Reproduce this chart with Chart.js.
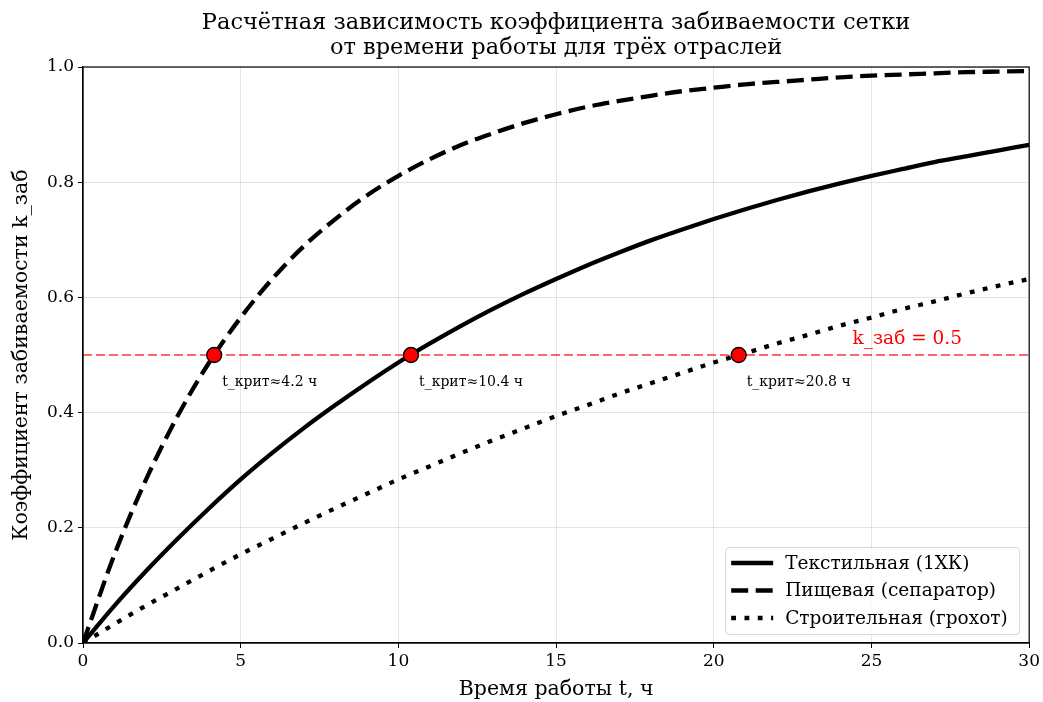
<!DOCTYPE html>
<html>
<head>
<meta charset="utf-8">
<script src="https://cdn.jsdelivr.net/npm/chart.js@4/dist/chart.umd.min.js"></script>
<style>
  html, body { margin: 0; padding: 0; background: #fff; }
  #wrap { width: 1043px; height: 702px; }
</style>
</head>
<body>
<div id="wrap"><canvas id="chart" width="1043" height="702"></canvas></div>
<script>
// время работы, ч
const tValues = [0, 1, 2, 3, 4, 5, 6, 7, 8, 9, 10, 11, 12, 13, 14, 15, 16, 17, 18, 19, 20, 21, 22, 23, 24, 25, 26, 27, 28, 29, 30];
// коэффициент забиваемости по отраслям
const textile = [0, 0.065, 0.125, 0.181, 0.234, 0.284, 0.330, 0.373, 0.413, 0.451, 0.487, 0.520, 0.551, 0.580, 0.607, 0.632, 0.656, 0.678, 0.699, 0.718, 0.736, 0.753, 0.769, 0.784, 0.798, 0.811, 0.823, 0.835, 0.845, 0.855, 0.865];
const food = [0, 0.154, 0.284, 0.394, 0.487, 0.565, 0.632, 0.689, 0.736, 0.777, 0.811, 0.840, 0.865, 0.885, 0.903, 0.918, 0.931, 0.941, 0.950, 0.958, 0.964, 0.970, 0.974, 0.978, 0.982, 0.985, 0.987, 0.989, 0.991, 0.992, 0.993];
const construction = [0, 0.033, 0.065, 0.095, 0.125, 0.154, 0.181, 0.208, 0.234, 0.259, 0.284, 0.307, 0.330, 0.352, 0.373, 0.394, 0.413, 0.433, 0.451, 0.469, 0.487, 0.503, 0.520, 0.535, 0.551, 0.565, 0.580, 0.593, 0.607, 0.620, 0.632];
const seriesNames = ['Текстильная (1ХК)', 'Пищевая (сепаратор)', 'Строительная (грохот)'];
// критический порог и время его достижения
const threshold = 0.5;
const critTimes = [4.16, 10.40, 20.79];
const critLabels = ['t_крит≈4.2 ч', 't_крит≈10.4 ч', 't_крит≈20.8 ч'];
const xTicks = [0, 5, 10, 15, 20, 25, 30];
const titleLines = ['Расчётная зависимость коэффициента забиваемости сетки', 'от времени работы для трёх отраслей'];

const FONT = "'DejaVu Serif', serif";

function toPoints(ys) {
    return tValues.map((t, i) => ({ x: t, y: ys[i] }));
}

const dashes = [[], [17, 7.5], [4.8, 8.5]];
const curves = [textile, food, construction].map((ys, i) => ({
    label: seriesNames[i],
    data: toPoints(ys),
    borderColor: '#000',
    borderWidth: 4.3,
    borderDash: dashes[i],
    borderCapStyle: 'butt',
    pointRadius: 0,
    cubicInterpolationMode: 'monotone',
    fill: false,
    order: 2
}));

const thresholdLine = {
    label: 'threshold',
    data: [{ x: 0, y: threshold }, { x: 30, y: threshold }],
    borderColor: 'rgba(255,0,0,0.6)',
    borderWidth: 2,
    borderDash: [9, 4],
    pointRadius: 0,
    order: 5
};

const critPoints = {
    label: 'crit',
    type: 'scatter',
    data: critTimes.map(t => ({ x: t, y: threshold })),
    backgroundColor: '#ff0000',
    borderColor: '#000',
    borderWidth: 1.3,
    pointRadius: 7.5,
    order: 0
};

// рамка, заголовок, подписи и легенда
const extras = {
    id: 'extras',
    afterDatasetsDraw(chart) {
        const { ctx, chartArea: a, scales } = chart;
        const x = scales.x, y = scales.y;
        ctx.save();
        ctx.strokeStyle = '#000';
        ctx.lineWidth = 1.2;
        ctx.strokeRect(a.left, a.top, a.right - a.left, a.bottom - a.top);

        ctx.fillStyle = '#000';
        ctx.textBaseline = 'middle';
        ctx.textAlign = 'center';
        ctx.font = '22.5px ' + FONT;
        titleLines.forEach((s, i) => ctx.fillText(s, (a.left + a.right) / 2, 23 + i * 25));

        ctx.font = '14px ' + FONT;
        ctx.textAlign = 'left';
        critTimes.forEach((t, i) => {
            ctx.fillText(critLabels[i], x.getPixelForValue(t) + 8, y.getPixelForValue(threshold) + 27);
        });

        ctx.fillStyle = '#ff0000';
        ctx.font = '18.5px ' + FONT;
        ctx.fillText('k_заб = 0.5', x.getPixelForValue(24.4), y.getPixelForValue(0.527));

        // легенда
        const bw = 294, bh = 87;
        const bx = a.right - 10 - bw, by = a.bottom - 9 - bh;
        ctx.fillStyle = 'rgba(255,255,255,0.8)';
        ctx.strokeStyle = '#d6d6d6';
        ctx.lineWidth = 1;
        ctx.beginPath();
        ctx.roundRect(bx + 0.5, by + 0.5, bw, bh, 4);
        ctx.fill();
        ctx.stroke();
        ctx.font = '18.5px ' + FONT;
        ctx.fillStyle = '#000';
        curves.forEach((c, i) => {
            const ly = by + 16 + i * 27.5;
            ctx.strokeStyle = '#000';
            ctx.lineWidth = 4.3;
            ctx.lineCap = 'butt';
            ctx.setLineDash(c.borderDash);
            ctx.beginPath();
            ctx.moveTo(bx + 6, ly);
            ctx.lineTo(bx + 48, ly);
            ctx.stroke();
            ctx.setLineDash([]);
            ctx.fillText(c.label, bx + 60, ly + 1);
        });
        ctx.restore();
    }
};

new Chart(document.getElementById('chart').getContext('2d'), {
    type: 'line',
    data: { datasets: [...curves, thresholdLine, critPoints] },
    plugins: [extras],
    options: {
        responsive: false,
        animation: false,
        layout: { padding: { left: 0, right: 12, top: 67, bottom: 0 } },
        plugins: {
            legend: { display: false },
            tooltip: { enabled: false },
            title: { display: false }
        },
        scales: {
            x: {
                type: 'linear',
                min: 0,
                max: 30,
                afterBuildTicks(scale) { scale.ticks = xTicks.map(v => ({ value: v })); },
                afterFit(scale) { scale.height = 59; },
                ticks: { color: '#000', font: { family: FONT, size: 17 }, padding: 3, maxRotation: 0,
                         callback: v => String(v) },
                grid: { color: 'rgba(0,0,0,0.1)', tickColor: '#000', tickLength: 5 },
                border: { color: '#000', width: 1.2 },
                title: { display: true, text: 'Время работы t, ч', color: '#000',
                         font: { family: FONT, size: 20.5 }, padding: { top: 0, bottom: 0 } }
            },
            y: {
                min: 0,
                max: 1,
                afterFit(scale) { scale.width = 83; },
                ticks: { stepSize: 0.2, color: '#000', font: { family: FONT, size: 17 }, padding: 4,
                         callback: v => v.toFixed(1) },
                grid: { color: 'rgba(0,0,0,0.1)', tickColor: '#000', tickLength: 5 },
                border: { color: '#000', width: 1.2 },
                title: { display: true, text: 'Коэффициент забиваемости k_заб', color: '#000',
                         font: { family: FONT, size: 20.5 }, padding: { top: 9, bottom: 0 } }
            }
        }
    }
});
</script>
</body>
</html>
